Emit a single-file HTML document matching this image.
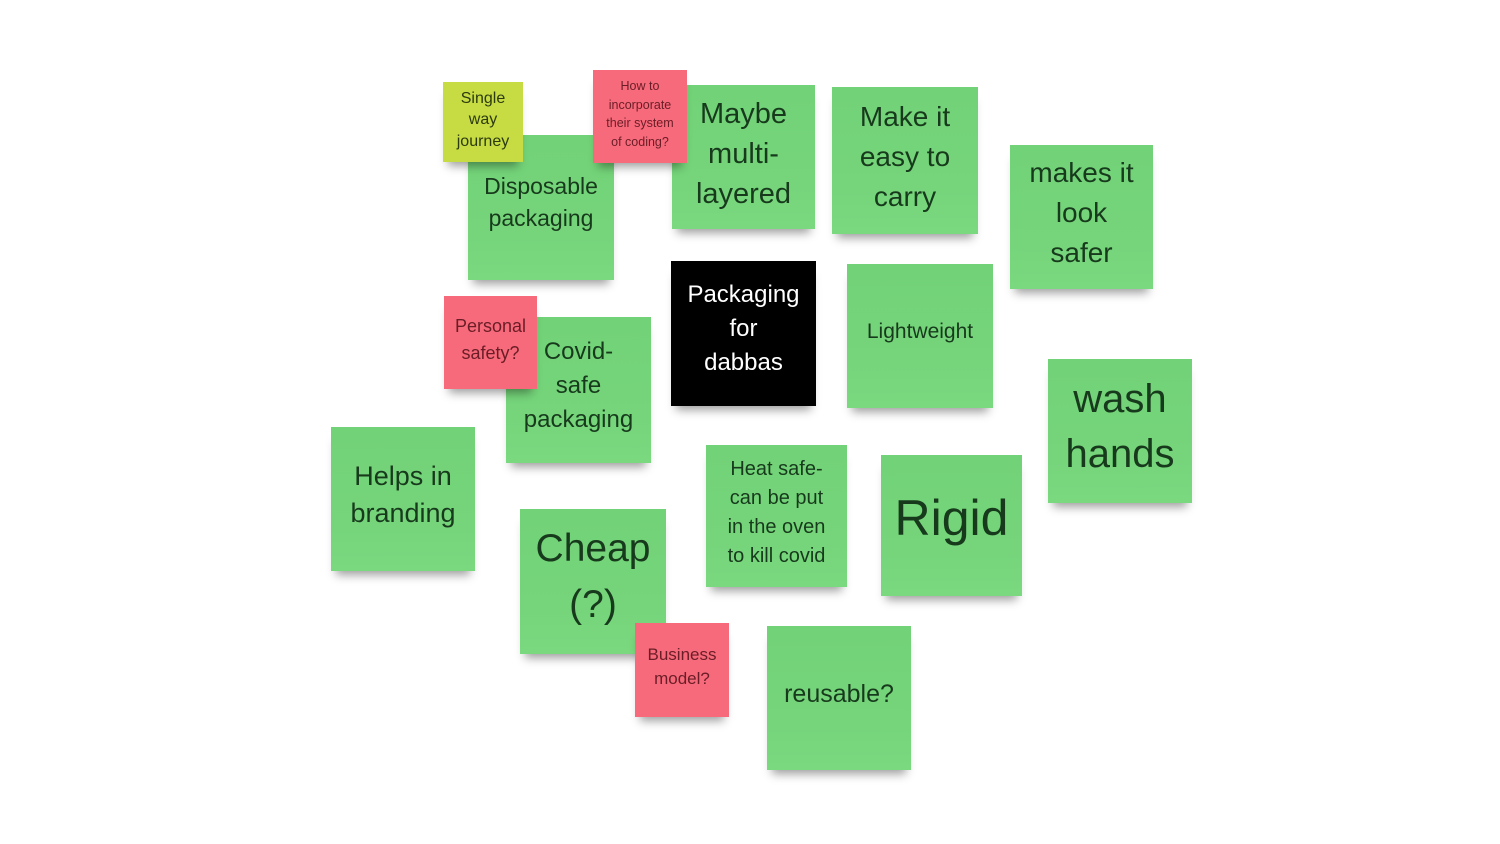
<!DOCTYPE html>
<html>
<head>
<meta charset="utf-8">
<style>
  html,body{margin:0;padding:0;background:#fff;}
  body{width:1500px;height:844px;position:relative;overflow:hidden;
       font-family:"Liberation Sans","DejaVu Sans",sans-serif;}
  .n{position:absolute;display:flex;align-items:center;justify-content:center;
     text-align:center;box-sizing:border-box;padding-bottom:8px;
     box-shadow:0 9px 9px -5px rgba(0,0,0,0.38);}
  .g{background:linear-gradient(180deg,#72d277 0%,#76d57b 70%,#7ad87f 100%);color:#173a1c;}
  .p{background:#f76a7b;color:#6a1d26;}
  .y{background:#c6dc42;color:#2c3a10;}
  .b{background:#000;color:#fff;}
</style>
</head>
<body>

<div class="n g" style="left:468px;top:135px;width:146px;height:145px;font-size:23px;line-height:32px;padding-bottom:12px;">Disposable<br>packaging</div>
<div class="n y" style="left:443px;top:82px;width:80px;height:80px;font-size:16px;line-height:21.5px;padding-bottom:4px;">Single<br>way<br>journey</div>

<div class="n g" style="left:672px;top:85px;width:143px;height:144px;font-size:29px;line-height:40px;padding-bottom:6px;">Maybe<br>multi-<br>layered</div>
<div class="n p" style="left:593px;top:70px;width:94px;height:93px;font-size:12.5px;line-height:18.5px;padding-bottom:5px;">How to<br>incorporate<br>their system<br>of coding?</div>

<div class="n g" style="left:832px;top:87px;width:146px;height:147px;font-size:28px;line-height:40px;">Make it<br>easy to<br>carry</div>

<div class="n g" style="left:1010px;top:145px;width:143px;height:144px;font-size:28px;line-height:40px;">makes it<br>look<br>safer</div>

<div class="n b" style="left:671px;top:261px;width:145px;height:145px;font-size:24px;line-height:34px;padding-bottom:9px;">Packaging<br>for<br>dabbas</div>

<div class="n g" style="left:847px;top:264px;width:146px;height:144px;font-size:21px;line-height:28px;padding-bottom:8px;">Lightweight</div>

<div class="n g" style="left:506px;top:317px;width:145px;height:146px;font-size:24px;line-height:34px;">Covid-<br>safe<br>packaging</div>
<div class="n p" style="left:444px;top:296px;width:93px;height:93px;font-size:18px;line-height:27px;padding-bottom:6px;">Personal<br>safety?</div>

<div class="n g" style="left:1048px;top:359px;width:144px;height:144px;font-size:40px;line-height:55px;padding-bottom:8px;">wash<br>hands</div>

<div class="n g" style="left:331px;top:427px;width:144px;height:144px;font-size:27px;line-height:37px;padding-bottom:8px;">Helps in<br>branding</div>

<div class="n g" style="left:706px;top:445px;width:141px;height:142px;font-size:20px;line-height:29px;padding-bottom:6px;">Heat safe-<br>can be put<br>in the oven<br>to kill covid</div>

<div class="n g" style="left:881px;top:455px;width:141px;height:141px;font-size:50px;line-height:60px;padding-bottom:16px;">Rigid</div>

<div class="n g" style="left:520px;top:509px;width:146px;height:145px;font-size:39px;line-height:56px;padding-bottom:10px;">Cheap<br>(?)</div>
<div class="n p" style="left:635px;top:623px;width:94px;height:94px;font-size:17px;line-height:24px;padding-bottom:6px;">Business<br>model?</div>

<div class="n g" style="left:767px;top:626px;width:144px;height:144px;font-size:25px;line-height:32px;padding-bottom:8px;">reusable?</div>

</body>
</html>
